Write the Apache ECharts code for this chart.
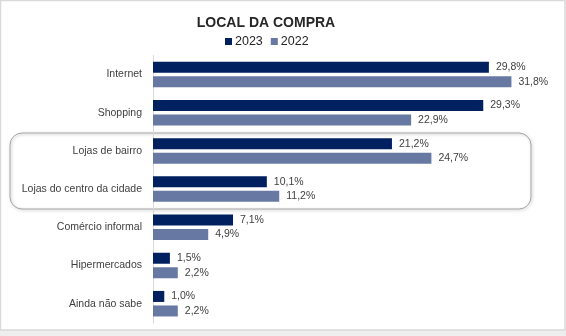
<!DOCTYPE html>
<html>
<head>
<meta charset="utf-8">
<script src="https://cdn.jsdelivr.net/npm/echarts@6/dist/echarts.min.js"></script>
<style>
html,body{margin:0;padding:0;background:#fff;}
#chart{width:566px;height:336px;}
</style>
</head>
<body>
<div id="chart"></div>
<script>
const categories = ['Internet', 'Shopping', 'Lojas de bairro', 'Lojas do centro da cidade', 'Comércio informal', 'Hipermercados', 'Ainda não sabe'];
const values2023 = [29.8, 29.3, 21.2, 10.1, 7.1, 1.5, 1.0];
const values2022 = [31.8, 22.9, 24.7, 11.2, 4.9, 2.2, 2.2];
const seriesNames = ['2023', '2022'];

const chart = echarts.init(document.getElementById('chart'), null, {renderer: 'canvas'});
const fmt = p => p.value.toFixed(1).replace('.', ',') + '%';
const labelStyle = {show: true, position: 'right', distance: 7, formatter: fmt, color: '#404040', fontSize: 10.5, fontFamily: 'Liberation Sans, Arial, sans-serif'};

chart.setOption({
  animation: false,
  backgroundColor: '#ffffff',
  title: {
    text: 'LOCAL DA COMPRA',
    left: 261, top: 11, textAlign: 'center',
    textStyle: {fontSize: 14, fontWeight: 'bold', color: '#262626', fontFamily: 'Liberation Sans, Arial, sans-serif'}
  },
  legend: {
    data: seriesNames,
    left: 220, top: 30,
    icon: 'rect', itemWidth: 7, itemHeight: 7, itemGap: 8,
    textStyle: {fontSize: 12.5, color: '#262626', fontFamily: 'Liberation Sans, Arial, sans-serif', padding: [0, 0, 0, -2]}
  },
  grid: {left: 153, top: 55.4, bottom: 13.2, right: 18.5, containLabel: false},
  xAxis: {type: 'value', min: 0, max: 35, show: false},
  yAxis: {
    type: 'category', data: categories, inverse: true,
    axisLine: {show: true, lineStyle: {color: '#d9d9d9', width: 1}},
    axisTick: {show: false},
    axisLabel: {margin: 11, color: '#404040', fontSize: 10.5, fontFamily: 'Liberation Sans, Arial, sans-serif'}
  },
  series: [
    {name: seriesNames[0], type: 'bar', data: values2023, barWidth: 11, barGap: '32%', itemStyle: {color: '#002060'}, label: labelStyle},
    {name: seriesNames[1], type: 'bar', data: values2022, barWidth: 11, barGap: '32%', itemStyle: {color: '#6779A3'}, label: labelStyle}
  ],
  graphic: [
    {type: 'rect', z: -1, shape: {x: 0, y: 330, width: 566, height: 6}, style: {fill: '#eeeeee'}},
    {type: 'rect', z: -1, shape: {x: 0.5, y: 0.5, width: 564.5, height: 329.5}, style: {fill: 'none', stroke: '#d9d9d9', lineWidth: 1.5}},
    {type: 'rect', z: 0, shape: {x: 10, y: 133, width: 521, height: 76, r: 12},
     style: {fill: 'none', stroke: '#a6a6a6', lineWidth: 1, shadowBlur: 3, shadowColor: 'rgba(0,0,0,0.3)', shadowOffsetX: 1, shadowOffsetY: 1}}
  ]
});
</script>
</body>
</html>
